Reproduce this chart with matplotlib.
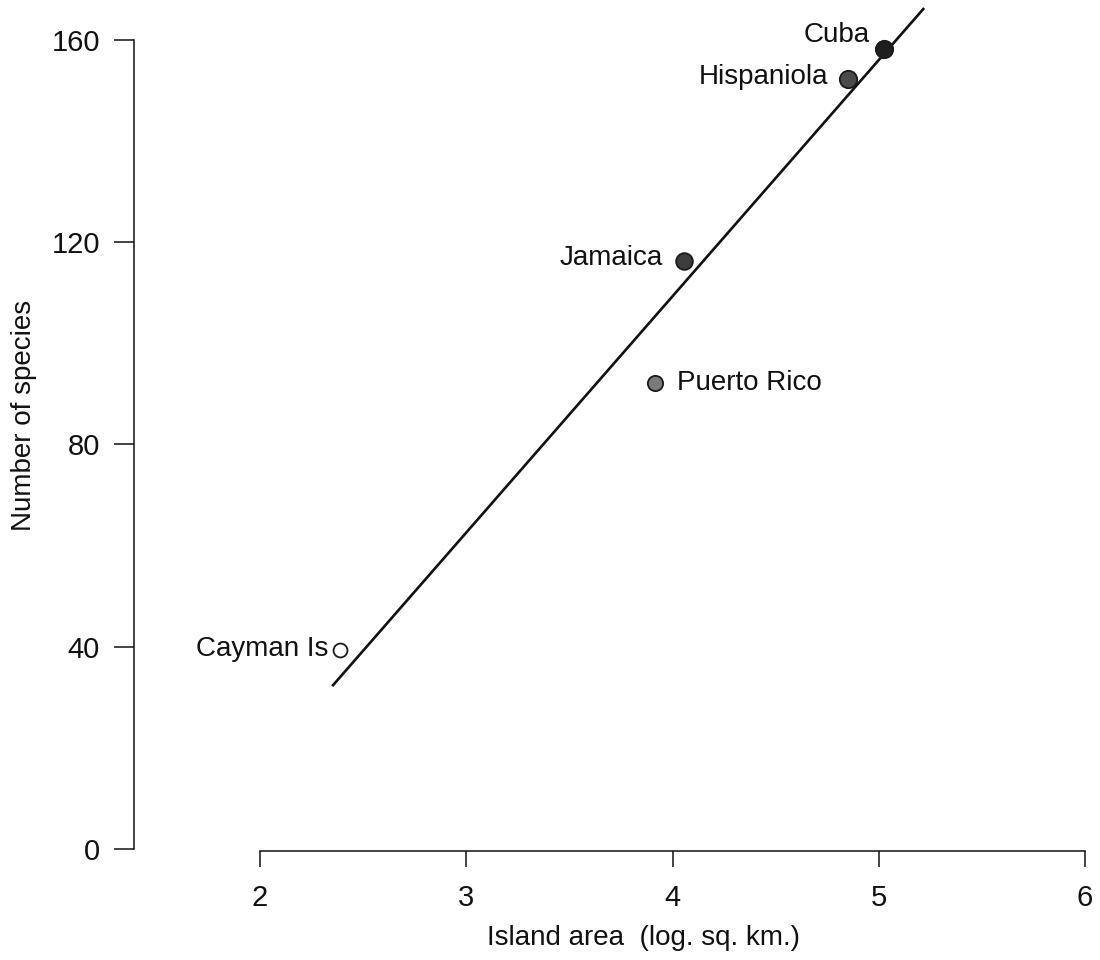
import matplotlib
matplotlib.use("Agg")
import matplotlib.pyplot as plt

plt.rcParams['font.family'] = ['Liberation Sans', 'DejaVu Sans']

# island data: log10 area (sq. km) and number of species
islands = ['Cuba', 'Hispaniola', 'Jamaica', 'Puerto Rico', 'Cayman Is']
log_area = [5.025, 4.852, 4.057, 3.915, 2.388]
species = [158.2, 152.2, 116.2, 92.1, 39.4]

# end points of the fitted line
fit_x = [2.35, 5.22]
fit_y = [32.2, 166.3]

x_ticks = [2, 3, 4, 5, 6]
y_ticks = [0, 40, 80, 120, 160]

# marker fill and label placement (offset in pixels, alignment)
fills = ['#1e1e1e', '#4a4a4a', '#3c3c3c', '#7a7a7a', 'white']
sizes = [12.5, 12.5, 12, 11, 10]
label_pos = [(-14, 14, 'right'), (-20, 2, 'right'), (-21, 3, 'right'),
             (22, 0, 'left'), (-12, 1, 'right')]

fig = plt.figure(figsize=(11, 9.6), dpi=100)
ax = fig.add_axes([134 / 1100, 1 - 851 / 960, (1085 - 134) / 1100, (851 - 5) / 960])

ax.plot(fit_x, fit_y, color='#111111', lw=1.9, solid_capstyle='butt', zorder=2)

for name, x, y, fc, ms, (dx, dy, ha) in zip(islands, log_area, species, fills,
                                              sizes, label_pos):
    ax.plot(x, y, 'o', ms=ms, mfc=fc, mec='#1a1a1a', mew=1.3, zorder=3)
    ax.annotate(name, (x, y), xytext=(dx, dy), textcoords='offset pixels',
                ha=ha, va='center', fontsize=20, color='#111111')

ax.set_xlim(1.389, 6.0)
ax.set_ylim(-0.4, 166.9)

ax.spines['top'].set_visible(False)
ax.spines['right'].set_visible(False)
ax.spines['left'].set_bounds(0, 160)
ax.spines['bottom'].set_bounds(2, 6)
for s in ('left', 'bottom'):
    ax.spines[s].set_linewidth(1.1)
    ax.spines[s].set_color('#111111')

ax.set_xticks(x_ticks)
ax.set_yticks(y_ticks)
ax.tick_params(axis='y', direction='out', length=14.5, width=1.1, pad=10,
               labelsize=21, colors='#111111')
ax.tick_params(axis='x', direction='out', length=11.5, width=1.1, pad=12,
               labelsize=21, colors='#111111')

ax.set_xlabel('Island area  (log. sq. km.)', fontsize=20, color='#111111')
ax.xaxis.set_label_coords(0.536, -0.088)
ax.set_ylabel('Number of species', fontsize=20, color='#111111')
ax.yaxis.set_label_coords(-0.102, 0.515)

fig.savefig('out.png', dpi=100, facecolor='white')
